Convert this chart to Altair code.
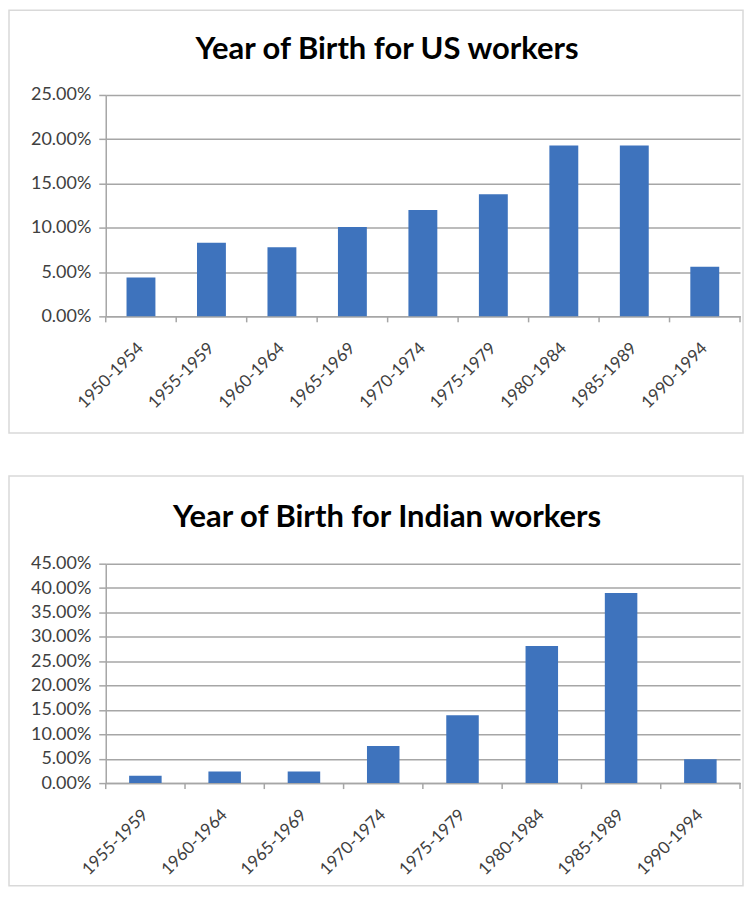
import altair as alt
import pandas as pd

# ---- data ----
us_periods = ["1950-1954", "1955-1959", "1960-1964", "1965-1969", "1970-1974",
              "1975-1979", "1980-1984", "1985-1989", "1990-1994"]
us_share = [0.044, 0.083, 0.078, 0.101, 0.120, 0.138, 0.193, 0.193, 0.056]
us_ticks = [0.0, 0.05, 0.10, 0.15, 0.20, 0.25]

in_periods = ["1955-1959", "1960-1964", "1965-1969", "1970-1974",
              "1975-1979", "1980-1984", "1985-1989", "1990-1994"]
in_share = [0.015, 0.024, 0.024, 0.076, 0.139, 0.281, 0.390, 0.049]
in_ticks = [0.0, 0.05, 0.10, 0.15, 0.20, 0.25, 0.30, 0.35, 0.40, 0.45]

us_title = "Year of Birth  for US workers"
in_title = "Year of Birth for Indian workers"

BAR = "#3E73BD"
GRID = "#A6A6A6"
FRAME = "#D9D9D9"
FONT = "Lato"
W = 636


def panel(periods, shares, ticks, title, height, box, title_y):
    df = pd.DataFrame({"period": periods, "share": shares})
    one = pd.DataFrame({"k": [0]})
    xscale = alt.Scale(domain=periods, paddingInner=0, paddingOuter=0)
    yscale = alt.Scale(domain=[0, ticks[-1]], nice=False)

    frame = alt.Chart(one).mark_rect(
        fillOpacity=0, stroke=FRAME, strokeWidth=1.5
    ).encode(
        x=alt.value(box[0]), x2=alt.value(box[1]),
        y=alt.value(box[2]), y2=alt.value(box[3]),
    )

    head = alt.Chart(one).mark_text(
        text=title, font=FONT, fontSize=31, fontWeight="bold", color="#000000",
        align="center", baseline="alphabetic"
    ).encode(x=alt.value(W / 2 - 36), y=alt.value(title_y))

    bars = alt.Chart(df).mark_bar(
        color=BAR, width=alt.RelativeBandSize(0.41)
    ).encode(
        x=alt.X("period:N", sort=periods, scale=xscale, title=None,
                axis=alt.Axis(labelAngle=-45, ticks=False, domain=True,
                              labelPadding=29, labelAlign="right",
                              labelBaseline="middle", grid=False,
                              labelFontSize=17)),
        y=alt.Y("share:Q", scale=yscale, title=None,
                axis=alt.Axis(format=".2%", values=ticks, grid=True,
                              tickSize=7, labelPadding=8, labelFontSize=18)),
    )

    xticks = alt.Chart(df).mark_rule(color=GRID, strokeWidth=1.5).encode(
        x=alt.X("period:N", sort=periods, scale=xscale, bandPosition=0),
        y=alt.value(height), y2=alt.value(height + 6),
    )
    endtick = alt.Chart(one).mark_rule(
        color=GRID, strokeWidth=1.5
    ).encode(x=alt.value(W), y=alt.value(height), y2=alt.value(height + 6))

    return alt.layer(frame, head, bars, xticks, endtick).properties(
        width=W, height=height,
    )


top = panel(us_periods, us_share, us_ticks, us_title, 222,
            (-97, 639, -85, 339), -36)
bottom = panel(in_periods, in_share, in_ticks, in_title, 220,
               (-97, 639, -88, 323), -37)

chart = alt.vconcat(top, bottom, spacing=41).properties(
    padding={"left": 0, "top": 0, "right": 0, "bottom": 0},
    background="white",
).configure_view(stroke=None).configure_axis(
    labelFont=FONT, labelColor="#404040",
    domainColor=GRID, domainWidth=1.5, tickColor=GRID, tickWidth=1.5,
    gridColor=GRID, gridWidth=1.5,
)

chart.save("out.html", embed_options={"renderer": "svg", "actions": False})
